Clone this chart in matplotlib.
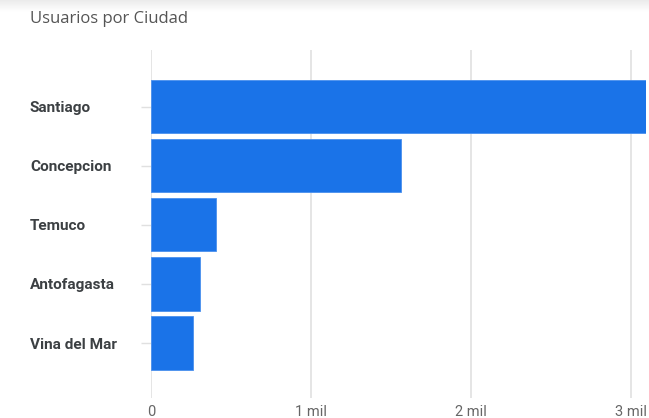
import matplotlib
matplotlib.use("Agg")
import matplotlib.pyplot as plt
import matplotlib.transforms as mtransforms
import numpy as np

ciudades = ["Santiago", "Concepcion", "Temuco", "Antofagasta", "Vina del Mar"]
usuarios = [3100, 1563, 406, 306, 263]
ticks = [0, 1000, 2000, 3000]
tick_labels = ["0", "1 mil", "2 mil", "3 mil"]

plt.rcParams["font.family"] = ["Roboto", "DejaVu Sans"]

fig = plt.figure(figsize=(6.49, 4.18), dpi=100)
W, H = 649, 418

# faint shadow along the top
sh = fig.add_axes([0, 1 - 12 / H, 1, 12 / H])
grad = np.linspace(0.92, 1.0, 50).reshape(-1, 1)
sh.imshow(np.repeat(grad, 2, axis=1), cmap="gray", vmin=0, vmax=1, aspect="auto",
          extent=[0, 1, 0, 1])
sh.axis("off")

ax = fig.add_axes([151 / W, 1 - 398 / H, (646 - 151) / W, (398 - 50) / H])
y = np.arange(len(ciudades))
ax.barh(y, usuarios, height=0.9, color="#1a73e8", edgecolor="#4a90ee", linewidth=0.6, zorder=3)
ax.set_xlim(0, 3094)
ax.set_ylim(4.93, -0.96)

ax.set_xticks(ticks)
ax.set_xticklabels(tick_labels, color="#666666", fontsize=10.5)
ax.tick_params(axis="x", length=0, pad=5)
ax.grid(axis="x", color="#e0e0e0", linewidth=1.2, zorder=0)

ax.set_yticks(y)
ax.set_yticklabels([])
ax.tick_params(axis="y", length=7, color="#e0e0e0", width=1)
for s in ax.spines.values():
    s.set_visible(False)

lab_tr = mtransforms.blended_transform_factory(fig.transFigure, ax.transData)
for yi, c in zip(y, ciudades):
    ax.text(30 / W, yi, c, transform=lab_tr, ha="left", va="center_baseline",
            fontsize=11.1, fontweight="bold", color="#3c4043")

fig.text(30 / W, 1 - 19 / H, "Usuarios por Ciudad", ha="left", va="center",
         fontsize=12, color="#555555", family=["Open Sans", "DejaVu Sans"])

fig.savefig("out.png", dpi=100)
